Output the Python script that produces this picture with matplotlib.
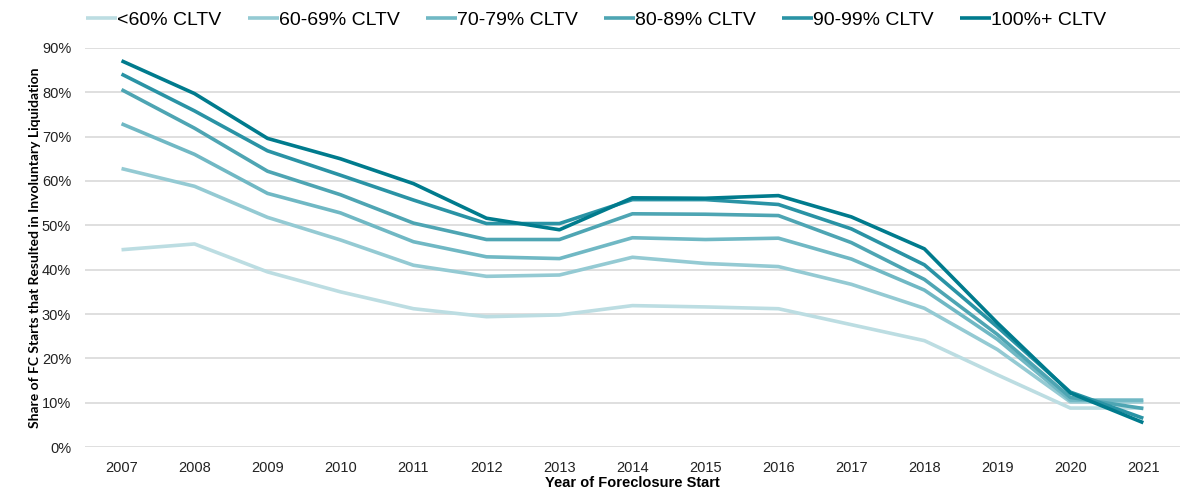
import matplotlib
matplotlib.use("Agg")
import matplotlib.pyplot as plt
from matplotlib.ticker import PercentFormatter

plt.rcParams['font.family'] = ['Liberation Sans', 'DejaVu Sans']

years = list(range(2007, 2022))
labels = ['<60% CLTV', '60-69% CLTV', '70-79% CLTV', '80-89% CLTV', '90-99% CLTV', '100%+ CLTV']

cltv_lt60 = [44.5, 45.8, 39.5, 35.0, 31.2, 29.4, 29.8, 31.9, 31.6, 31.2, 27.6, 24.0, 16.3, 8.8, 8.8]
cltv_60_69 = [62.8, 58.8, 51.8, 46.7, 41.0, 38.5, 38.8, 42.8, 41.4, 40.7, 36.7, 31.3, 22.0, 10.2, 10.2]
cltv_70_79 = [72.9, 66.0, 57.2, 52.8, 46.3, 42.9, 42.5, 47.2, 46.8, 47.1, 42.4, 35.4, 24.3, 10.6, 10.6]
cltv_80_89 = [80.6, 71.9, 62.2, 56.9, 50.5, 46.8, 46.8, 52.6, 52.5, 52.2, 46.1, 37.8, 25.4, 11.2, 8.7]
cltv_90_99 = [84.1, 75.8, 66.8, 61.3, 55.7, 50.4, 50.4, 55.8, 55.8, 54.7, 49.2, 41.1, 27.1, 12.4, 6.5]
cltv_100 = [87.1, 79.7, 69.6, 65.0, 59.4, 51.6, 49.0, 56.2, 56.1, 56.7, 51.9, 44.7, 28.0, 12.2, 5.5]

series = [cltv_lt60, cltv_60_69, cltv_70_79, cltv_80_89, cltv_90_99, cltv_100]
colors = ['#bcdde2', '#94cad3', '#70b8c4', '#4ea5b3', '#2a93a5', '#007b8d']

fig = plt.figure(figsize=(11.81, 4.99), dpi=100)
ax = fig.add_axes([0.072, 0.104, 0.927, 0.8])

for vals, lab, col in zip(series, labels, colors):
    ax.plot(years, vals, color=col, lw=2.6, label=lab, solid_capstyle='butt')

ax.set_xlim(2006.5, 2021.5)
ax.set_ylim(0, 90)
ax.set_xticks(years)
ax.set_yticks(range(0, 91, 10))
ax.yaxis.set_major_formatter(PercentFormatter(decimals=0))
ax.grid(axis='y', color='#d9d9d9', lw=1.2)
ax.set_axisbelow(True)
for s in ax.spines.values():
    s.set_visible(False)
ax.tick_params(length=0, labelsize=10.5, colors='#222222')
ax.tick_params(axis='x', pad=10)
ax.tick_params(axis='y', pad=10)

ax.set_xlabel('Year of Foreclosure Start', fontsize=10.5, fontweight='bold', labelpad=1)
ax.set_ylabel('Share of FC Starts that Resulted in Involuntary Liquidation', fontsize=10,
              fontweight='bold', labelpad=1, family=['Lato', 'DejaVu Sans'])

fig.legend(loc='upper left', bbox_to_anchor=(0.058, 1.012), ncol=6, frameon=False,
           fontsize=14, handlelength=1.6, handletextpad=0.0, columnspacing=1.35)

fig.savefig('out.png', dpi=100)
